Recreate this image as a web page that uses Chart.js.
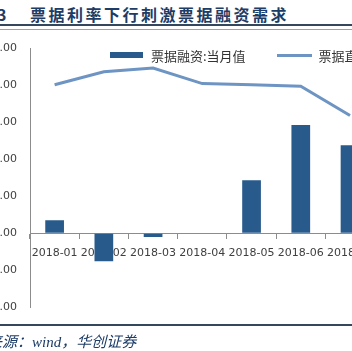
<!DOCTYPE html>
<html>
<head>
<meta charset="utf-8">
<script src="https://cdn.jsdelivr.net/npm/chart.js@4"></script>
<style>
  html, body { margin: 0; padding: 0; background: #fff; }
  body { width: 352px; height: 351px; overflow: hidden; position: relative; }
  .title { position: absolute; top: 4px; font: bold 16px "Noto Sans CJK SC"; letter-spacing: 2.5px; color: #1d3c66; white-space: nowrap; line-height: 20px; }
  .rule { position: absolute; left: 0; width: 352px; }
  #legend { position: absolute; top: 44px; left: 110px; font: 13px "Noto Sans CJK SC"; color: #333; white-space: nowrap; }
  #legend span { display: inline-block; vertical-align: middle; }
  #source { position: absolute; left: -13px; top: 332px; font: italic 15px "Liberation Serif", "Noto Sans CJK SC"; color: #1d3c66; white-space: nowrap; line-height: 20px; }
  #wrap { position: absolute; left: -40px; top: 0; width: 421px; height: 327px; }
</style>
</head>
<body>
<div class="title" style="left:-40px">图表3</div>
<div class="title" style="left:30px">票据利率下行刺激票据融资需求</div>
<div class="rule" style="top:24px;height:2px;background:#34475c"></div>
<div class="rule" style="top:29px;height:1px;background:#9aa3ad"></div>
<div id="wrap"><canvas id="chart"></canvas></div>
<div id="legend">
  <span style="width:33px;height:6px;background:#285a8c"></span>
  <span style="margin-left:5px">票据融资:当月值</span>
  <span style="width:35px;height:3px;background:#6d94c3;margin-left:29px"></span>
  <span style="margin-left:3px">票据直贴利率</span>
</div>
<div class="rule" style="top:324px;height:2px;background:#34475c"></div>
<div id="source">来源：wind，华创证券</div>
<script>
// 月份
var months = ['2018-01', '2018-02', '2018-03', '2018-04', '2018-05', '2018-06', '2018-07'];
// 票据融资:当月值 (亿元, 左轴)
var billFinancing = [351, -757, -100, 0, 1432, 2919, 2378];
// 票据直贴利率 (%, 右轴)
var discountRate = [6.01, 6.36, 6.46, 6.04, 6.01, 5.97, 5.18];
// 左轴刻度
var leftTickLabels = ['-2,000.00', '-1,000.00', '0.00', '1,000.00', '2,000.00', '3,000.00', '4,000.00', '5,000.00'];

var ctx = document.getElementById('chart');

new Chart(ctx, {
    data: {
        labels: months,
        datasets: [
            {
                type: 'line',
                label: '票据直贴利率',
                data: discountRate,
                yAxisID: 'y1',
                borderColor: '#6d94c3',
                borderWidth: 3,
                pointRadius: 0,
                tension: 0,
                order: 0
            },
            {
                type: 'bar',
                label: '票据融资:当月值',
                data: billFinancing,
                yAxisID: 'y',
                backgroundColor: '#285a8c',
                categoryPercentage: 1,
                barPercentage: 0.38,
                order: 1
            }
        ]
    },
    options: {
        responsive: true,
        maintainAspectRatio: false,
        animation: false,
        layout: { padding: { top: 48, bottom: 15, left: 0, right: 0 } },
        plugins: { legend: { display: false }, tooltip: { enabled: false } },
        scales: {
            x: {
                position: { y: 0 },
                offset: true,
                grid: { drawOnChartArea: false, drawTicks: true, tickLength: 5, offset: true, color: '#8c8c8c' },
                border: { display: true, color: '#8c8c8c', width: 1 },
                ticks: { color: '#404040', font: { family: 'DejaVu Sans', size: 11 }, padding: 8, maxRotation: 0, autoSkip: false }
            },
            y: {
                position: 'left',
                min: -2000,
                max: 5000,
                afterFit: function (scale) { scale.width = 70; },
                grid: { drawOnChartArea: false, drawTicks: false },
                border: { display: true, color: '#8c8c8c', width: 1 },
                ticks: {
                    stepSize: 1000,
                    padding: 13,
                    color: '#404040',
                    font: { family: 'DejaVu Sans', size: 11 },
                    callback: function (v, i) { return leftTickLabels[i]; }
                }
            },
            y1: {
                position: 'right',
                display: false,
                min: 0,
                max: 7
            }
        }
    }
});
</script>
</body>
</html>
